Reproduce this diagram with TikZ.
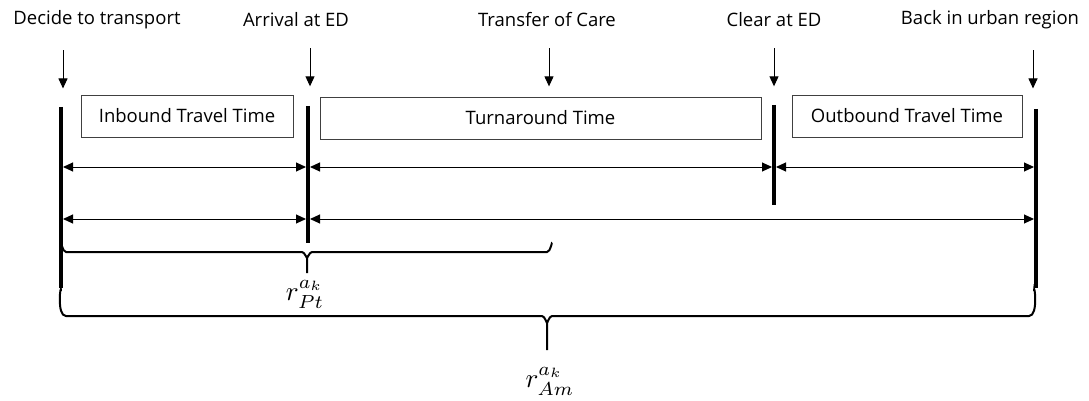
\documentclass[tikz,border=0pt]{standalone}
\usepackage{fontspec}
\setmainfont{Open Sans}
\usetikzlibrary{arrows.meta,positioning,calc}

\newcommand{\bigsym}[1]{\scalebox{2.7}{$#1$}}

\begin{document}
\begin{tikzpicture}[x=1pt, y=-1pt,
    event/.style={font=\fontsize{18.5}{22}\selectfont, inner sep=0pt},
    period/.style={rectangle, draw=black!75, line width=0.9pt, minimum height=42pt, inner sep=0pt, font=\fontsize{18.5}{22}\selectfont},
    bar/.style={line width=4pt},
    drop/.style={draw, -{Triangle[length=10pt,width=9pt]}, line width=1pt},
    span/.style={draw, {Triangle[length=10pt,width=9pt]}-{Triangle[length=10pt,width=9pt]}, line width=1pt, shorten >=2pt, shorten <=2pt},
    brace/.style={draw, line width=2pt},
    sym/.style={inner sep=0pt}
    ]
    \useasboundingbox (0,0) rectangle (1089,401);

    % nodes
    \node[event] (decide) at (97,20) {Decide to transport};
    \node[event] (arrive) at (296,20) {Arrival at ED};
    \node[event] (transfer) at (547,20) {Transfer of Care};
    \node[event] (clear) at (774,20) {Clear at ED};
    \node[event] (back) at (990,20) {Back in urban region};

    \node[period, minimum width=212pt] (inbound) at (187,116) {Inbound Travel Time};
    \node[period, minimum width=441pt] (turn) at (540.5,118) {Turnaround Time};
    \node[period, minimum width=230pt] (outbound) at (907,116) {Outbound Travel Time};

    \node[sym] (pt) at (305,294) {\bigsym{r^{a_k}_{Pt}}};
    \node[sym] (am) at (550,381) {\bigsym{r^{a_k}_{Am}}};

    % time marks
    \coordinate (b1t) at (61,107);  \coordinate (b1b) at (61,288);
    \coordinate (b2t) at (308,106); \coordinate (b2b) at (308,243);
    \coordinate (b3t) at (774,105); \coordinate (b3b) at (774,205);
    \coordinate (b4t) at (1036,109); \coordinate (b4b) at (1036,288);
    \coordinate (row1) at (0,167);
    \coordinate (row2) at (0,219);

    \foreach \b in {b1,b2,b3,b4}
        \draw[bar] (\b t) -- (\b b);

    % lines
    \path[drop] (decide.south -| b1t) ++(2,21) -- ++(0,38);
    \path[drop] (arrive.south -| b2t) ++(2,21) -- ++(0,38);
    \path[drop] (transfer.south) ++(2,21) -- ++(0,38);
    \path[drop] (clear.south -| b3t) ++(0,21) -- ++(0,38);
    \path[drop] (back.south -| b4t) ++(-3,21) -- ++(0,38);

    \path[span] (b1t |- row1) -- (b2t |- row1);
    \path[span] (b2t |- row1) -- (b3t |- row1);
    \path[span] (b3t |- row1) -- (b4t |- row1);
    \path[span] (b1t |- row2) -- (b2t |- row2);
    \path[span] (b2t |- row2) -- (b4t |- row2);

    % braces
    \path[brace] (61,244) to[out=90,in=180] (66,252) -- (302,252)
        to[out=0,in=-90] (307,257) -- (307,273)
        (307,257) to[out=-90,in=180] (312,252) -- (547,252) to[out=0,in=90] (552,244);
    \path[brace] (b1b) ++(0,3) to[out=90,in=180] (66,316) -- (542,316)
        to[out=0,in=-90] (547,322) -- (547,350)
        (547,322) to[out=-90,in=180] (552,316) -- (1029,316) to[out=0,in=90] (1034,291);

    \end{tikzpicture}
\end{document}
